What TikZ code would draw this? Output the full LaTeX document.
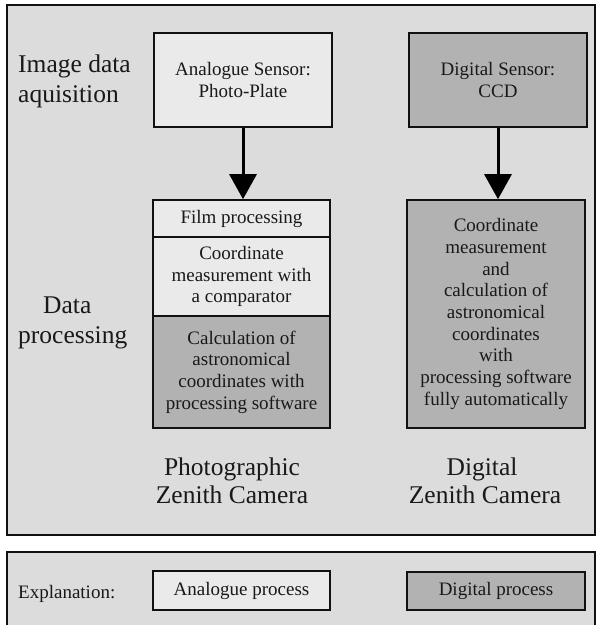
\documentclass[tikz,border=0pt]{standalone}
\usepackage{fontspec}
\setmainfont{Liberation Serif}
\usetikzlibrary{arrows.meta}
\definecolor{bgray}{HTML}{DCDCDC}
\definecolor{agray}{HTML}{EAEAEA}
\definecolor{dgray}{HTML}{B2B2B2}
\definecolor{lineblk}{HTML}{111111}
\begin{document}
\begin{tikzpicture}[x=1pt,y=1pt,
  frame/.style={draw=lineblk,line width=2pt,fill=bgray},
  boxbase/.style={draw=lineblk,line width=1.6pt,align=center,inner sep=0pt,
    font=\fontsize{19}{21.7}\selectfont,text=black!90},
  abox/.style={boxbase,fill=agray},
  dbox/.style={boxbase,fill=dgray},
  biglabel/.style={font=\fontsize{25.5}{30}\selectfont,inner sep=0pt,text=black!90},
  smalllabel/.style={font=\fontsize{19}{21.7}\selectfont,inner sep=0pt,text=black!90},
  flow/.style={draw=black,line width=3pt,-{Triangle[length=25pt,width=27pt]}}
]
\useasboundingbox (0,0) rectangle (602,-625);
% frames
\draw[frame] (6.5,-5) rectangle (595,-535);
\draw[frame] (6.5,-552) rectangle (595,-640);

% row labels
\node[biglabel,anchor=base west] (l1a) at (18,-72) {Image data};
\node[biglabel,anchor=base west] (l1b) at (18,-102) {aquisition};
\node[biglabel,anchor=base west] (l2a) at (43,-313) {Data};
\node[biglabel,anchor=base west] (l2b) at (18,-343) {processing};

% sensors
\node[abox,minimum width=178pt,minimum height=94pt] (ansens) at (243,-80) {Analogue Sensor:\\Photo-Plate};
\node[dbox,minimum width=178pt,minimum height=94pt] (dsens) at (498,-80) {Digital Sensor:\\CCD};

% analogue processing stack
\node[abox,minimum width=177pt,minimum height=37pt] (film) at (241.5,-218.5) {Film processing};
\node[abox,minimum width=177pt,minimum height=79pt] (coord) at (241.5,-276.5) {Coordinate\\measurement with\\a comparator};
\node[dbox,minimum width=177pt,minimum height=112pt] (calc) at (241.5,-372) {Calculation of\\astronomical\\coordinates with\\processing software};

% digital processing
\node[dbox,minimum width=178pt,minimum height=228pt] (dproc) at (496,-314) {Coordinate\\measurement\\and\\calculation of\\astronomical\\coordinates\\with\\processing software\\fully automatically};

% arrows
\draw[flow] (ansens.south) -- (ansens.south |- film.north);
\draw[flow] (dsens.south) -- (dsens.south |- dproc.north);

% camera labels
\node[biglabel,anchor=base] (c1a) at (232,-475) {Photographic};
\node[biglabel,anchor=base] (c1b) at (232,-503) {Zenith Camera};
\node[biglabel,anchor=base] (c2a) at (482,-475) {Digital};
\node[biglabel,anchor=base] (c2b) at (485,-503) {Zenith Camera};

% legend
\node[smalllabel,anchor=base west] (expl) at (18,-598) {Explanation:};
\node[abox,minimum width=177pt,minimum height=39pt] (aleg) at (241.5,-590.5) {Analogue process};
\node[dbox,minimum width=178pt,minimum height=38pt] (dleg) at (496,-591) {Digital process};
\end{tikzpicture}
\end{document}
